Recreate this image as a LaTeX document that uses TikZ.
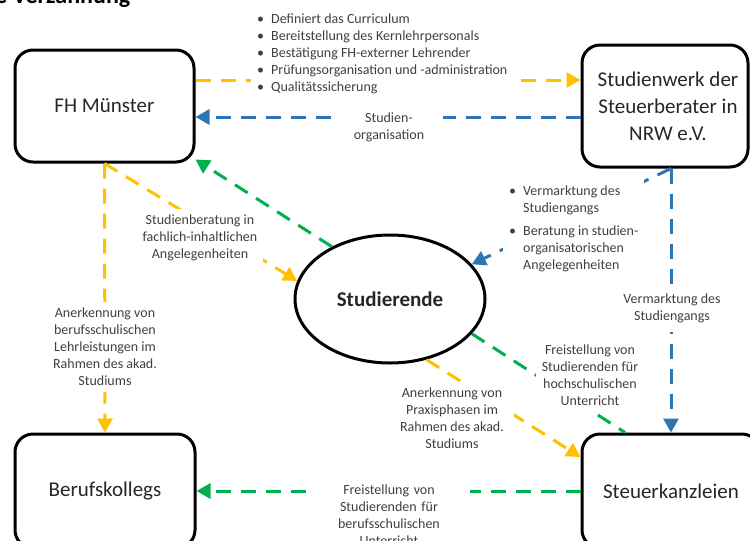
\documentclass[tikz,border=0pt]{standalone}
\usepackage{fontspec}
\setmainfont{Carlito}
\usetikzlibrary{shapes.geometric, arrows.meta}
\definecolor{fhorange}{HTML}{FFC000}
\definecolor{fhblue}{HTML}{2E75B6}
\definecolor{fhgreen}{HTML}{00B050}
\definecolor{txtgray}{HTML}{404040}

\begin{document}
\begin{tikzpicture}[
        x=1pt, y=-1pt,
        >={Triangle[length=14pt, width=15pt]},
        box/.style = {
            draw, line width=3pt,
            rounded corners=18pt,
            font=\fontsize{21}{27}\selectfont,
            text=black!85,
            align=center
        },
        lbl/.style = {
            fill=white,
            inner sep=6pt,
            font=\fontsize{14}{17}\selectfont,
            text=txtgray,
            align=center
        },
        link/.style = {
            line width=3pt,
            dash pattern=on 15pt off 10pt
        }]
    \useasboundingbox (0,0) rectangle (750,541);
    \node[font=\bfseries\fontsize{24}{28}\selectfont, anchor=base west, inner sep=0] (title) at (-5,3) {e Verzahnung};

    \node[box, minimum width=179, minimum height=112] (fh) at (104.5,106) {FH Münster};
    \node[box, minimum width=166, minimum height=122] (swk) at (665,106) {\hspace*{6pt}Studienwerk der\\\hspace*{6pt}Steuerberater in\\\hspace*{6pt}NRW e.V.};
    \node[draw, ellipse, line width=3pt, minimum width=190, minimum height=128, inner sep=0,
          font=\bfseries\fontsize{21}{27}\selectfont, text=black!85] (stud) at (390,299) {Studierende};
    \node[box, minimum width=180, minimum height=114] (bk) at (105,491) {Berufskollegs};
    \node[box, minimum width=178, minimum height=114] (sk) at (671,491) {Steuerkanzleien};

    \draw[link, fhorange, ->] ([yshift=26pt]fh.east) -- ([yshift=26pt]swk.west);
    \draw[link, fhblue, ->] ([yshift=-11pt]swk.west) -- ([yshift=-11pt]fh.east);
    \draw[link, fhgreen, ->] (stud.138) -- ([yshift=4pt]fh.south east);
    \draw[link, fhorange, ->] (fh.south) -- (stud.169);
    \draw[link, fhorange, ->] (fh.south) -- (bk.north);
    \draw[link, fhblue, ->] (swk.south -| sk.north) -- (stud.23);
    \draw[link, fhblue, ->] (swk.south -| sk.north) -- (sk.north);
    \draw[link, fhgreen] (stud.-23) -- ([xshift=-46pt]sk.north);
    \draw[link, fhorange, ->] (stud.-59) -- ([yshift=34pt]sk.west);
    \draw[link, fhgreen, ->] (sk.west) -- (bk.east);

    \node[lbl, anchor=west, align=left] (lblcurr) at (251,54) {%
        \makebox[14pt][l]{\textbullet}Definiert das Curriculum\\
        \makebox[14pt][l]{\textbullet}Bereitstellung des Kernlehrpersonals\\
        \makebox[14pt][l]{\textbullet}Bestätigung FH-externer Lehrender\\
        \makebox[14pt][l]{\textbullet}Prüfungsorganisation und -administration\\
        \makebox[14pt][l]{\textbullet}Qualitätssicherung};
    \node[lbl, text width=95pt] (lblorga) at (389,127) {Studien-\\organisation};
    \node[lbl] (lblberat) at (200,238) {Studienberatung in\\fachlich-inhaltlichen\\Angelegenheiten};
    \node[lbl] (lblberuf) at (105,347) {Anerkennung von\\berufsschulischen\\Lehrleistungen im\\Rahmen des akad.\\Studiums};
    \node[lbl, anchor=north west, align=left] (lblmarkt) at (503,177) {%
        \begin{tabular}{@{}l@{\hspace{7pt}}l@{}}
            \textbullet & Vermarktung des\\
                        & Studiengangs\\[6pt]
            \textbullet & Beratung in studien-\\
                        & organisatorischen\\
                        & Angelegenheiten
        \end{tabular}};
    \node[lbl, inner ysep=9pt] (lblvermarkt) at (672,308) {Vermarktung des\\Studiengangs};
    \node[lbl] (lblhoch) at (590,375) {Freistellung von\\Studierenden für\\hochschulischen\\Unterricht};
    \node[lbl, inner xsep=10pt] (lblpraxis) at (452,418) {Anerkennung von\\Praxisphasen im\\Rahmen des akad.\\Studiums};
    \node[lbl, text width=150pt] (lblbs) at (389,515) {Freistellung von\\Studierenden für\\berufsschulischen\\Unterricht};
\end{tikzpicture}
\end{document}
